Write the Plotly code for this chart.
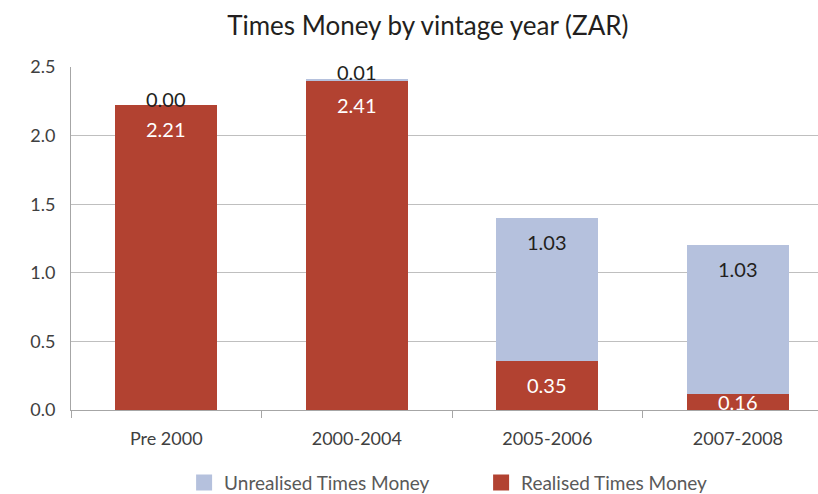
import plotly.graph_objects as go

categories = ["Pre 2000", "2000-2004", "2005-2006", "2007-2008"]
realised = [2.22, 2.40, 0.36, 0.12]
unrealised = [0.00, 0.015, 1.04, 1.08]
realised_labels = ["2.21", "2.41", "0.35", "0.16"]
unrealised_labels = ["0.00", "0.01", "1.03", "1.03"]
y_ticks = [0.0, 0.5, 1.0, 1.5, 2.0, 2.5]

RED = "#B24231"
BLUE = "#B5C1DD"
FONT = "Lato"

fig = go.Figure()
fig.add_trace(go.Bar(x=categories, y=realised, name="Realised Times Money",
                     marker=dict(color=RED, line=dict(width=0)), showlegend=False))
fig.add_trace(go.Bar(x=categories, y=unrealised, name="Unrealised Times Money",
                     marker=dict(color=BLUE, line=dict(width=0)), showlegend=False))

# legend entries (square swatches)
fig.add_trace(go.Scatter(x=[None], y=[None], mode="markers", name="Unrealised Times Money",
                         marker=dict(symbol="square", size=20, color=BLUE)))
fig.add_trace(go.Scatter(x=[None], y=[None], mode="markers", name="Realised Times Money",
                         marker=dict(symbol="square", size=20, color=RED)))

# data labels
for c, r, u, rl, ul in zip(categories, realised, unrealised, realised_labels, unrealised_labels):
    fig.add_annotation(x=c, y=max(r - 0.175, r / 2), text=rl, showarrow=False,
                       yanchor="middle", font=dict(family=FONT, size=20, color="white"))
    top = r + u
    uy = top + 0.05 if u < 0.35 else top - 0.175
    fig.add_annotation(x=c, y=uy, text=ul, showarrow=False,
                       yanchor="middle", font=dict(family=FONT, size=20, color="#231F20"))

fig.update_layout(
    width=818, height=494,
    barmode="stack", bargap=0.465,
    plot_bgcolor="white", paper_bgcolor="white",
    margin=dict(l=71, r=0, t=67, b=84, autoexpand=False),
    font=dict(family=FONT, size=18, color="#404040"),
    title=dict(text="Times Money by vintage year (ZAR)", x=0.523, xref="container", xanchor="center",
               y=0.947, yref="container", yanchor="middle",
               font=dict(family=FONT, size=26, color="#231F20")),
    legend=dict(orientation="h", x=0.549, xanchor="center", y=-0.212, yanchor="middle",
                traceorder="normal", font=dict(family=FONT, size=19, color="#595959"),
                itemsizing="trace", entrywidth=252),
)
fig.update_xaxes(range=[-0.5, 3.42], showline=True, linecolor="#A6A6A6", linewidth=1,
                 ticks="outside", tickson="boundaries", ticklen=7, tickcolor="#A6A6A6",
                 ticklabelstandoff=12, showgrid=False, fixedrange=True, automargin=False)
fig.update_yaxes(range=[0, 2.5], tickvals=y_ticks, tickformat=".1f", showline=True,
                 linecolor="#A6A6A6", linewidth=1, gridcolor="#BFBFBF", gridwidth=1,
                 ticks="", ticklabelstandoff=11, zeroline=False, fixedrange=True, automargin=False)

fig.write_html("out.html", config={"displayModeBar": False},
               post_script="document.body.style.margin='0';")
